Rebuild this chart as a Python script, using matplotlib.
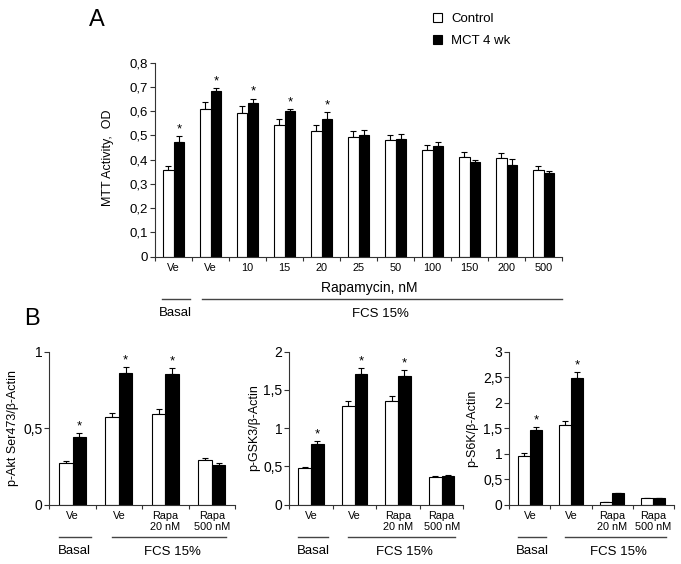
import numpy as np
import matplotlib
matplotlib.use("Agg")
from matplotlib import pyplot as plt
from matplotlib import transforms
from matplotlib.patches import Patch

plt.rcParams['font.family'] = ['Liberation Sans', 'DejaVu Sans']

# panel A: MTT activity
a_labels = ["Ve", "Ve", "10", "15", "20", "25", "50", "100", "150", "200", "500"]
a_ctrl = [0.358, 0.608, 0.594, 0.542, 0.519, 0.492, 0.480, 0.438, 0.411, 0.407, 0.357]
a_ctrl_err = [0.017, 0.029, 0.029, 0.025, 0.025, 0.027, 0.023, 0.021, 0.021, 0.020, 0.017]
a_mct = [0.472, 0.682, 0.634, 0.601, 0.569, 0.500, 0.484, 0.456, 0.392, 0.380, 0.344]
a_mct_err = [0.027, 0.015, 0.018, 0.008, 0.026, 0.024, 0.023, 0.017, 0.007, 0.023, 0.009]
a_star = [True, True, True, True, True, False, False, False, False, False, False]

# panel B: western blot quantification
b_labels = ["Ve", "Ve", "Rapa\n20 nM", "Rapa\n500 nM"]
akt_ctrl = [0.272, 0.572, 0.595, 0.290]
akt_ctrl_err = [0.014, 0.029, 0.028, 0.015]
akt_mct = [0.444, 0.859, 0.856, 0.261]
akt_mct_err = [0.024, 0.043, 0.040, 0.014]
gsk_ctrl = [0.476, 1.288, 1.360, 0.362]
gsk_ctrl_err = [0.021, 0.065, 0.067, 0.013]
gsk_mct = [0.790, 1.710, 1.680, 0.380]
gsk_mct_err = [0.040, 0.080, 0.080, 0.013]
s6k_ctrl = [0.963, 1.560, 0.053, 0.130]
s6k_ctrl_err = [0.052, 0.084, 0.005, 0.005]
s6k_mct = [1.468, 2.480, 0.223, 0.130]
s6k_mct_err = [0.059, 0.120, 0.007, 0.005]
b_star = [True, True, True, False]
s6k_star = [True, True, False, False]

W, H = 681, 564
fig = plt.figure(figsize=(W / 100, H / 100), dpi=100)


def fx(px):
    return px / W


def fy(py):
    return 1 - py / H


def comma(v):
    s = ("%g" % v)
    return s.replace(".", ",")


def draw_bars(ax, ctrl, ctrl_err, mct, mct_err, stars, star_gap, bw=0.29):
    x = np.arange(len(ctrl))
    ax.bar(x - bw / 2, ctrl, bw, color="white", edgecolor="black", linewidth=0.8, zorder=2)
    ax.bar(x + bw / 2, mct, bw, color="black", edgecolor="black", linewidth=0.8, zorder=2)
    ax.errorbar(x - bw / 2, ctrl, yerr=[np.zeros(len(ctrl)), ctrl_err], fmt="none",
                ecolor="black", elinewidth=0.8, capsize=2.5, capthick=0.8, zorder=1)
    ax.errorbar(x + bw / 2, mct, yerr=[np.zeros(len(mct)), mct_err], fmt="none",
                ecolor="black", elinewidth=0.8, capsize=2.5, capthick=0.8, zorder=1)
    for i, s in enumerate(stars):
        if s:
            ax.text(x[i] + bw / 2, mct[i] + mct_err[i] + star_gap, "*", ha="center",
                    va="bottom", fontsize=9.5)
    ax.spines["top"].set_visible(False)
    ax.spines["right"].set_visible(False)
    for sp in ("left", "bottom"):
        ax.spines[sp].set_linewidth(0.8)
        ax.spines[sp].set_color("#333333")
    ax.set_xlim(-0.5, len(ctrl) - 0.5)
    ax.set_xticks(x)
    ax.set_xticks(np.arange(len(ctrl) + 1) - 0.5, minor=True)
    ax.tick_params(axis="x", which="major", length=0)
    ax.tick_params(axis="x", which="minor", length=3, width=0.8, color="#333333")
    ax.tick_params(axis="y", length=3.5, width=0.8, color="#333333", pad=1.5)


def group_line(ax, x0, x1, py):
    tr = transforms.blended_transform_factory(ax.transData, fig.transFigure)
    ax.plot([x0, x1], [fy(py), fy(py)], color="#444444", linewidth=1.0,
            transform=tr, clip_on=False)


def group_text(ax, x, py, s, size):
    tr = transforms.blended_transform_factory(ax.transData, fig.transFigure)
    ax.text(x, fy(py), s, ha="center", va="center", fontsize=size, transform=tr)


# ---- panel A ----
axA = fig.add_axes([fx(155), fy(256.7), fx(407), (256.7 - 62.7) / H])
draw_bars(axA, a_ctrl, a_ctrl_err, a_mct, a_mct_err, a_star, 0.003)
axA.set_ylim(0, 0.8)
axA.set_yticks(np.arange(0, 0.81, 0.1))
axA.set_yticklabels([comma(round(v, 1)) for v in np.arange(0, 0.81, 0.1)], fontsize=9.5)
axA.set_xticklabels(a_labels, fontsize=7.8)
axA.tick_params(axis="x", which="major", pad=4.5)
fig.text(fx(108), fy(158), "MTT Activity,  OD", rotation=90, ha="center", va="center",
         fontsize=9)
group_text(axA, 5.3, 288, "Rapamycin, nM", 10)
group_line(axA, -0.3, 0.45, 299)
group_line(axA, 0.77, 10.5, 299)
group_text(axA, 0.05, 313, "Basal", 9.5)
group_text(axA, 5.6, 314, "FCS 15%", 9.5)
fig.text(fx(97), fy(20), "A", fontsize=17, ha="center", va="center")

fig.legend(handles=[Patch(facecolor="white", edgecolor="black", linewidth=0.8),
                    Patch(facecolor="black", edgecolor="black", linewidth=0.8)],
           labels=["Control", "MCT 4 wk"], loc="upper left",
           bbox_to_anchor=(fx(421), fy(1)), frameon=False, fontsize=9.5,
           handlelength=0.7, handleheight=0.7, handletextpad=0.7, labelspacing=0.75)

# ---- panel B ----
b_axes = [
    (49.3, 235.0, akt_ctrl, akt_ctrl_err, akt_mct, akt_mct_err, b_star, 1.0, 0.5,
     "p-Akt Ser473/β-Actin", 13),
    (289.3, 463.4, gsk_ctrl, gsk_ctrl_err, gsk_mct, gsk_mct_err, b_star, 2.0, 0.5,
     "p-GSK3/β-Actin", 254),
    (509.3, 674.0, s6k_ctrl, s6k_ctrl_err, s6k_mct, s6k_mct_err, s6k_star, 3.0, 0.5,
     "p-S6K/β-Actin", 472),
]
for left, right, c, ce, m, me, st, ymax, step, ylab, labx in b_axes:
    ax = fig.add_axes([fx(left), fy(504.7), fx(right - left), (504.7 - 351.7) / H])
    draw_bars(ax, c, ce, m, me, st, ymax * 0.004)
    ax.set_ylim(0, ymax)
    ticks = np.arange(0, ymax + step / 2, step)
    ax.set_yticks(ticks)
    ax.set_yticklabels([comma(round(v, 1)) for v in ticks], fontsize=10)
    ax.set_xticklabels(b_labels, fontsize=7.8, linespacing=1.1)
    ax.tick_params(axis="x", which="major", pad=4.5)
    fig.text(fx(labx), fy(428), ylab, rotation=90, ha="center", va="center", fontsize=9)
    group_line(ax, -0.3, 0.4, 537)
    group_line(ax, 0.85, 3.3, 537)
    group_text(ax, 0.05, 551, "Basal", 9.5)
    group_text(ax, 2.15, 552, "FCS 15%", 9.5)

fig.text(fx(32), fy(319), "B", fontsize=17, ha="center", va="center")

fig.savefig("out.png", dpi=100)
